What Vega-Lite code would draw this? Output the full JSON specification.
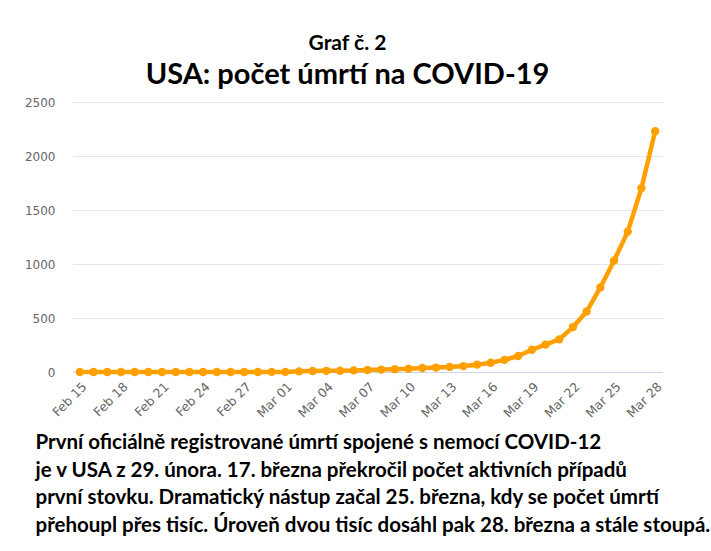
{
  "$schema": "https://vega.github.io/schema/vega-lite/v6.json",
  "autosize": "none",
  "width": 589,
  "height": 270,
  "padding": {"left": 73, "top": 102, "right": 49, "bottom": 179},
  "background": "white",
  "title": {
    "text": "Graf č. 2",
    "subtitle": "USA: počet úmrtí na COVID-19",
    "anchor": "middle",
    "dx": -20,
    "font": "Lato",
    "fontSize": 21,
    "fontWeight": "bold",
    "color": "#000000",
    "subtitleFont": "Lato",
    "subtitleFontSize": 29,
    "subtitleFontWeight": "bold",
    "subtitleColor": "#000000",
    "subtitlePadding": 7,
    "offset": 6
  },
  "data": {
    "values": [
      {"day": "Feb 15", "deaths": 0},
      {"day": "Feb 16", "deaths": 0},
      {"day": "Feb 17", "deaths": 0},
      {"day": "Feb 18", "deaths": 0},
      {"day": "Feb 19", "deaths": 0},
      {"day": "Feb 20", "deaths": 0},
      {"day": "Feb 21", "deaths": 0},
      {"day": "Feb 22", "deaths": 0},
      {"day": "Feb 23", "deaths": 0},
      {"day": "Feb 24", "deaths": 0},
      {"day": "Feb 25", "deaths": 0},
      {"day": "Feb 26", "deaths": 0},
      {"day": "Feb 27", "deaths": 0},
      {"day": "Feb 28", "deaths": 0},
      {"day": "Feb 29", "deaths": 1},
      {"day": "Mar 01", "deaths": 1},
      {"day": "Mar 02", "deaths": 6},
      {"day": "Mar 03", "deaths": 9},
      {"day": "Mar 04", "deaths": 11},
      {"day": "Mar 05", "deaths": 12},
      {"day": "Mar 06", "deaths": 15},
      {"day": "Mar 07", "deaths": 19},
      {"day": "Mar 08", "deaths": 22},
      {"day": "Mar 09", "deaths": 26},
      {"day": "Mar 10", "deaths": 30},
      {"day": "Mar 11", "deaths": 37},
      {"day": "Mar 12", "deaths": 41},
      {"day": "Mar 13", "deaths": 47},
      {"day": "Mar 14", "deaths": 55},
      {"day": "Mar 15", "deaths": 68},
      {"day": "Mar 16", "deaths": 86},
      {"day": "Mar 17", "deaths": 112},
      {"day": "Mar 18", "deaths": 148},
      {"day": "Mar 19", "deaths": 206},
      {"day": "Mar 20", "deaths": 254},
      {"day": "Mar 21", "deaths": 302},
      {"day": "Mar 22", "deaths": 416},
      {"day": "Mar 23", "deaths": 560},
      {"day": "Mar 24", "deaths": 783},
      {"day": "Mar 25", "deaths": 1031},
      {"day": "Mar 26", "deaths": 1300},
      {"day": "Mar 27", "deaths": 1703},
      {"day": "Mar 28", "deaths": 2229}
    ]
  },
  "mark": {
    "type": "line",
    "color": "#ffa000",
    "strokeWidth": 4.5,
    "point": {"filled": true, "size": 70, "color": "#ffa000", "opacity": 1}
  },
  "encoding": {
    "x": {
      "field": "day",
      "type": "ordinal",
      "sort": null,
      "scale": {"type": "point", "padding": 0.5},
      "axis": {
        "values": ["Feb 15", "Feb 18", "Feb 21", "Feb 24", "Feb 27", "Mar 01", "Mar 04", "Mar 07", "Mar 10", "Mar 13", "Mar 16", "Mar 19", "Mar 22", "Mar 25", "Mar 28"],
        "labelAngle": -45,
        "labelFont": "DejaVu Sans",
        "labelFontSize": 12.5,
        "labelColor": "#666666",
        "labelPadding": 8,
        "ticks": false,
        "domainColor": "#ccd6eb",
        "domainWidth": 1,
        "grid": false,
        "title": [
          "První oficiálně registrované úmrtí spojené s nemocí COVID-12",
          "je v USA z 29. února. 17. března překročil počet aktivních případů",
          "první stovku. Dramatický nástup začal 25. března, kdy se počet úmrtí",
          "přehoupl přes tisíc. Úroveň dvou tisíc dosáhl pak 28. března a stále stoupá."
        ],
        "titleFont": "Lato",
        "titleFontSize": 20.5,
        "titleFontWeight": "bold",
        "titleColor": "#000000",
        "titleLineHeight": 27.5,
        "titleAlign": "left",
        "titleAnchor": "start",
        "titleX": -38,
        "titlePadding": 13
      }
    },
    "y": {
      "field": "deaths",
      "type": "quantitative",
      "scale": {"domain": [0, 2500], "nice": false},
      "axis": {
        "values": [0, 500, 1000, 1500, 2000, 2500],
        "format": "d",
        "labelFont": "DejaVu Sans",
        "labelFontSize": 12,
        "labelColor": "#666666",
        "labelPadding": 18,
        "ticks": false,
        "domain": false,
        "gridColor": "#e6e6e6",
        "title": null
      }
    }
  },
  "config": {"view": {"stroke": null}}
}
